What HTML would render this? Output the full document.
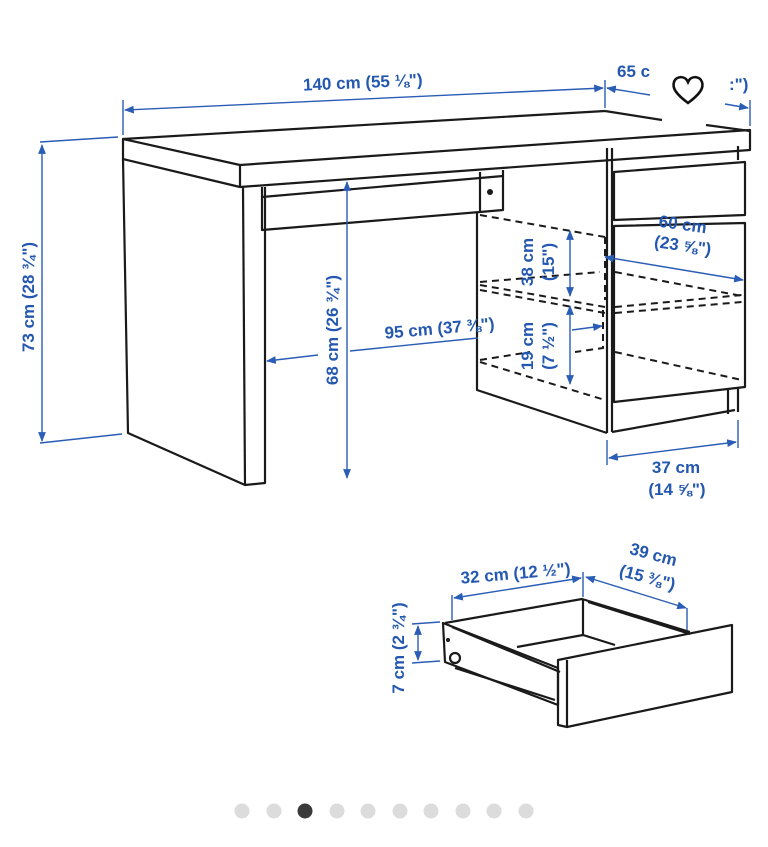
<!DOCTYPE html>
<html><head><meta charset="utf-8"><style>
html,body{margin:0;padding:0;background:#fff;}
svg{display:block;}
.k{stroke:#1a1a1a;stroke-width:2.2;fill:none;stroke-linejoin:round;}
.d{stroke:#1a1a1a;stroke-width:2;fill:none;stroke-dasharray:7,5;}
.b{stroke:#2a5db5;stroke-width:1.4;fill:none;}
.t{font-family:"Liberation Sans",sans-serif;font-weight:bold;fill:#2458b0;font-size:17px;}
</style></head><body>
<svg width="768" height="847" viewBox="0 0 768 847" xmlns="http://www.w3.org/2000/svg">
<defs>
<marker id="a" viewBox="0 0 10 10" refX="9" refY="5" markerWidth="7" markerHeight="7" orient="auto-start-reverse"><path d="M0,1 L10,5 L0,9 z" fill="#2a5db5"/></marker>
</defs>
<polyline class="k" points="123,139 605,111"/>
<polyline class="k" points="605,111 662,120"/>
<polyline class="k" points="706,125 750,131"/>
<polygon class="k" points="123,139 240,165 750,130 750,150 240,187 123,159"/>
<line class="k" x1="240" y1="165" x2="240" y2="187"/>
<polyline class="k" points="123,159 128,433 245,485 265,483 265,187"/>
<line class="k" x1="243" y1="187" x2="245" y2="485"/>
<polyline class="k" points="262,187 262,230 480,212"/>
<line class="k" x1="262" y1="197" x2="503" y2="176"/>
<polyline class="k" points="480,172 480,212"/>
<polyline class="k" points="503,170 503,210 480,212"/>
<circle cx="490" cy="192" r="3" fill="#1a1a1a"/>
<polyline class="k" points="477,212 477,390 607,433"/>
<line class="k" x1="607" y1="148" x2="607" y2="433"/>
<line class="k" x1="612" y1="148" x2="612" y2="432"/>
<polygon class="k" points="614,172 745,162 745,215 614,220"/>
<polygon class="k" points="614,226 745,223 745,387 614,402"/>
<polyline class="k" points="612,432 735,410"/>
<line class="k" x1="728" y1="390" x2="728" y2="414"/>
<line class="k" x1="738" y1="387" x2="738" y2="412"/>
<line class="k" x1="738" y1="146" x2="738" y2="160"/>
<polyline class="d" points="480,215 605,237"/>
<polyline class="d" points="605,237 605,300"/>
<polyline class="d" points="480,282 600,272"/>
<polyline class="d" points="480,285 605,307"/>
<polyline class="d" points="480,290 605,313"/>
<polyline class="d" points="615,272 742,296"/>
<polyline class="d" points="615,307 742,295"/>
<polyline class="d" points="615,313 742,302"/>
<polyline class="d" points="603,310 603,348 575,352"/>
<polyline class="d" points="480,360 530,352"/>
<polyline class="d" points="480,362 605,400"/>
<polyline class="d" points="615,352 742,380"/>
<polygon class="k" points="443,623 558,668 558,705 445,662"/>
<polyline class="k" points="445,623 582,599 690,632"/>
<line class="k" x1="452" y1="627" x2="560" y2="672"/>
<line class="k" x1="588" y1="602" x2="690" y2="634"/>
<line class="k" x1="583" y1="600" x2="583" y2="635"/>
<polyline class="k" points="517,647 583,635 615,645"/>
<polygon class="k" points="558,660 732,625 732,692 567,727 558,725"/>
<line class="k" x1="567" y1="660" x2="567" y2="727"/>
<line class="k" x1="455" y1="668" x2="555" y2="700"/>
<circle cx="455" cy="658" r="5" class="k"/>
<circle cx="448" cy="640" r="2" fill="#1a1a1a"/>
<line class="b" x1="123" y1="100" x2="123" y2="135"/>
<line class="b" x1="605" y1="80" x2="605" y2="108"/>
<line class="b" x1="125" y1="110" x2="603" y2="88" marker-start="url(#a)" marker-end="url(#a)"/>
<text class="t" x="363" y="88" text-anchor="middle" transform="rotate(-2.5 363 88)">140 cm (55 ⅛")</text>
<line class="b" x1="607" y1="88" x2="650" y2="95" marker-start="url(#a)"/>
<line class="b" x1="725" y1="104" x2="748" y2="108" marker-end="url(#a)"/>
<line class="b" x1="750" y1="100" x2="750" y2="126"/>
<text class="t" x="617" y="77">65 c</text>
<text class="t" x="729" y="90">:")</text>
<path d="M688,103 C676,94 672,88 674,82 C676,76 685,75 688,82 C691,75 700,76 702,82 C704,88 700,94 688,103 z" fill="none" stroke="#111" stroke-width="2.6"/>
<line class="b" x1="40" y1="142" x2="118" y2="137"/>
<line class="b" x1="40" y1="443" x2="122" y2="434"/>
<line class="b" x1="42" y1="145" x2="42" y2="441" marker-start="url(#a)" marker-end="url(#a)"/>
<text class="t" x="34" y="297" text-anchor="middle" transform="rotate(-90 34 297)">73 cm (28 ¾")</text>
<line class="b" x1="347" y1="182" x2="347" y2="478" marker-start="url(#a)" marker-end="url(#a)"/>
<text class="t" x="338" y="330" text-anchor="middle" transform="rotate(-90 338 330)">68 cm (26 ¾")</text>
<line class="b" x1="267" y1="361" x2="318" y2="355" marker-start="url(#a)"/>
<line class="b" x1="350" y1="351" x2="478" y2="338"/>
<text class="t" x="440" y="334" text-anchor="middle" transform="rotate(-5 440 334)">95 cm (37 ⅜")</text>
<line class="b" x1="570" y1="231" x2="570" y2="296" marker-start="url(#a)" marker-end="url(#a)"/>
<line class="b" x1="570" y1="306" x2="570" y2="384" marker-start="url(#a)" marker-end="url(#a)"/>
<line class="b" x1="572" y1="330" x2="602" y2="326" marker-end="url(#a)"/>
<text class="t" x="533" y="262" text-anchor="middle" transform="rotate(-90 533 262)">38 cm</text>
<text class="t" x="554" y="262" text-anchor="middle" transform="rotate(-90 554 262)">(15")</text>
<text class="t" x="533" y="346" text-anchor="middle" transform="rotate(-90 533 346)">19 cm</text>
<text class="t" x="554" y="346" text-anchor="middle" transform="rotate(-90 554 346)">(7 ½")</text>
<line class="b" x1="605" y1="257" x2="743" y2="280" marker-start="url(#a)" marker-end="url(#a)"/>
<text class="t" x="682" y="230" text-anchor="middle" transform="rotate(8 682 230)">60 cm</text>
<text class="t" x="682" y="251" text-anchor="middle" transform="rotate(8 682 251)">(23 ⅝")</text>
<line class="b" x1="607" y1="440" x2="607" y2="465"/>
<line class="b" x1="738" y1="420" x2="738" y2="448"/>
<line class="b" x1="609" y1="458" x2="736" y2="442" marker-start="url(#a)" marker-end="url(#a)"/>
<text class="t" x="676" y="473" text-anchor="middle">37 cm</text>
<text class="t" x="677" y="495" text-anchor="middle">(14 ⅝")</text>
<line class="b" x1="452" y1="595" x2="452" y2="620"/>
<line class="b" x1="583" y1="572" x2="583" y2="597"/>
<line class="b" x1="454" y1="598" x2="581" y2="578" marker-start="url(#a)" marker-end="url(#a)"/>
<text class="t" x="516" y="579" text-anchor="middle" transform="rotate(-5 516 579)">32 cm (12 ½")</text>
<line class="b" x1="687" y1="608" x2="687" y2="630"/>
<line class="b" x1="586" y1="577" x2="686" y2="608" marker-start="url(#a)" marker-end="url(#a)"/>
<text class="t" x="652" y="560" text-anchor="middle" transform="rotate(15 652 560)">39 cm</text>
<text class="t" x="646" y="583" text-anchor="middle" transform="rotate(15 646 583)">(15 ⅜")</text>
<line class="b" x1="412" y1="624" x2="440" y2="622"/>
<line class="b" x1="412" y1="663" x2="440" y2="661"/>
<line class="b" x1="418" y1="626" x2="418" y2="660" marker-start="url(#a)" marker-end="url(#a)"/>
<text class="t" x="404" y="648" text-anchor="middle" transform="rotate(-90 404 648)">7 cm (2 ¾")</text>
<g fill="#dcdcdc">
<circle cx="242" cy="811" r="7.5"/><circle cx="274" cy="811" r="7.5"/>
<circle cx="337" cy="811" r="7.5"/><circle cx="368" cy="811" r="7.5"/><circle cx="400" cy="811" r="7.5"/>
<circle cx="431" cy="811" r="7.5"/><circle cx="463" cy="811" r="7.5"/><circle cx="494" cy="811" r="7.5"/><circle cx="526" cy="811" r="7.5"/>
</g>
<circle cx="305" cy="811" r="7.5" fill="#3a3a3a"/>
</svg>
</body></html>
